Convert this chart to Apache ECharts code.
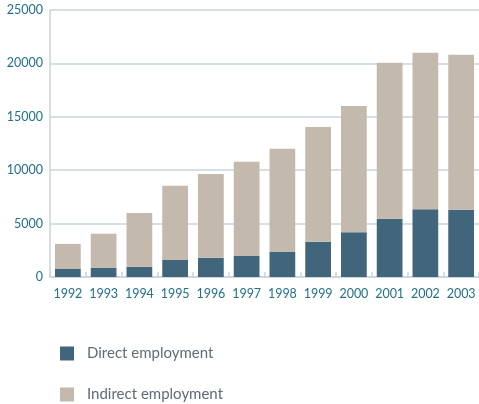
<!DOCTYPE html>
<html>
<head>
<meta charset="utf-8">
<script src="https://cdn.jsdelivr.net/npm/echarts@6/dist/echarts.min.js"></script>
<style>
  html, body { margin: 0; padding: 0; background: #fff; }
  #chart { width: 479px; height: 404px; }
</style>
</head>
<body>
<div id="chart"></div>
<script>
// data
const years = ['1992', '1993', '1994', '1995', '1996', '1997', '1998', '1999', '2000', '2001', '2002', '2003'];
const directEmployment = [750, 850, 950, 1600, 1800, 2000, 2350, 3300, 4200, 5450, 6350, 6300];
const indirectEmployment = [2350, 3200, 5050, 6950, 7850, 8800, 9650, 10750, 11800, 14600, 14650, 14500];

const labelColor = '#22708c';
const lineColor = '#c8d5e0';

let chart = echarts.init(document.getElementById('chart'));
chart.setOption({
    animation: false,
    textStyle: { fontFamily: 'Lato' },
    legend: {
        orient: 'vertical',
        left: 60,
        top: 346,
        height: 58,
        padding: 0,
        itemWidth: 14,
        itemHeight: 14,
        itemGap: 26,
        icon: 'rect',
        textStyle: { color: '#5f6c76', fontSize: 15, padding: [0, 0, 0, 8] },
        data: ['Direct employment', 'Indirect employment']
    },
    grid: { left: 50, top: 10, width: 432, bottom: 127 },
    xAxis: {
        type: 'category',
        data: years,
        axisLine: { lineStyle: { color: lineColor, width: 1.5 } },
        axisTick: { show: true, inside: true, length: 5, interval: 0, lineStyle: { color: lineColor, width: 1.5 } },
        axisLabel: { color: labelColor, fontSize: 12.5, margin: 10, interval: 0 }
    },
    yAxis: {
        type: 'value',
        min: 0,
        max: 25000,
        interval: 5000,
        axisLine: { show: true, lineStyle: { color: lineColor, width: 1.5 } },
        axisTick: { show: false },
        axisLabel: { color: labelColor, fontSize: 12.5, margin: 7, formatter: v => String(v) },
        splitLine: { lineStyle: { color: lineColor, width: 1.5 } }
    },
    series: [
        {
            name: 'Direct employment',
            type: 'bar',
            stack: 'total',
            barCategoryGap: '28%',
            itemStyle: { color: '#41657b' },
            data: directEmployment
        },
        {
            name: 'Indirect employment',
            type: 'bar',
            stack: 'total',
            barCategoryGap: '28%',
            itemStyle: { color: '#c3b9ac' },
            data: indirectEmployment
        }
    ]
});
</script>
</body>
</html>
